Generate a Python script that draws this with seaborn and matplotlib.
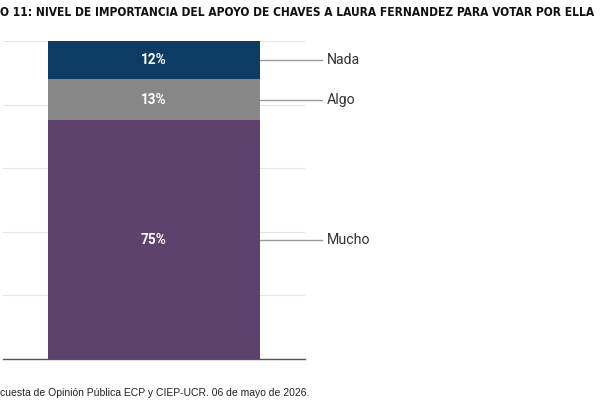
import matplotlib
matplotlib.use("Agg")
import matplotlib.pyplot as plt
from matplotlib import font_manager
import seaborn as sns
import pandas as pd

categories = ["Mucho", "Algo", "Nada"]
values = [75, 13, 12]
colors = ["#5d426e", "#878787", "#0c3c63"]
pct_labels = ["75%", "13%", "12%"]
title = "O 11: NIVEL DE IMPORTANCIA DEL APOYO DE CHAVES A LAURA FERNANDEZ PARA VOTAR POR ELLA"
footer = "cuesta de Opinión Pública ECP y CIEP-UCR. 06 de mayo de 2026."

sns.set_theme(style="white")
plt.rcParams['font.family'] = ['Roboto', 'DejaVu Sans']

# choose a condensed family for the title if available
title_family = ["Lato", "DejaVu Sans"]
title_stretch = "normal"
for fam, stretch in [("Liberation Sans Narrow", "normal"), ("DejaVu Sans", "condensed")]:
    try:
        fp = font_manager.FontProperties(family=fam, weight="bold", stretch=stretch)
        path = font_manager.findfont(fp, fallback_to_default=False)
        if fam == "DejaVu Sans" and "Condensed" not in path:
            continue
        title_family = [fam, "DejaVu Sans"]
        title_stretch = stretch
        break
    except Exception:
        continue

fig = plt.figure(figsize=(6, 4), dpi=100)
ax = fig.add_axes([3/600, 41/400, 302/600, 318/400])

cum = []
s = 0
for v in values:
    s += v
    cum.append(s)

df = pd.DataFrame({"grupo": [""] * len(values), "top": cum, "cat": categories})
for i in reversed(range(len(values))):
    sns.barplot(data=df.iloc[[i]], x="grupo", y="top", color=colors[i],
                width=0.7, ax=ax, saturation=1, edgecolor="none", zorder=2)

ax.set_xlim(-0.5, 0.5)
ax.set_ylim(0, 100)
ax.set_yticks([0, 20, 40, 60, 80, 100])
ax.yaxis.grid(True, color="#e4e4e4", linewidth=0.8, zorder=0)
ax.set_axisbelow(True)
ax.set_xticks([])
ax.set_yticklabels([])
ax.tick_params(left=False, bottom=False)
ax.set_xlabel("")
ax.set_ylabel("")
for sp in ["top", "right", "left"]:
    ax.spines[sp].set_visible(False)
ax.spines["bottom"].set_color("#555555")
ax.spines["bottom"].set_linewidth(1.0)

bottoms = [0] + cum[:-1]
for i, (cat, v) in enumerate(zip(categories, values)):
    mid = bottoms[i] + v / 2
    ax.text(0, mid, pct_labels[i], ha="center", va="center", color="white",
            fontsize=9.8, fontweight="bold", family=["Roboto", "DejaVu Sans"], zorder=5)
    ax.plot([0.35, 0.556], [mid, mid], color="#9a9a9a", linewidth=1.0,
            clip_on=False, zorder=4)
    ax.text(0.573, mid, cat, ha="left", va="center", color="#333333",
            fontsize=10.2, family=["Roboto", "DejaVu Sans"], clip_on=False)

t = fig.text(0.0, 400 - 13, title, transform=None, ha="left", va="center",
             fontsize=9.5, fontweight="bold", color="#111111",
             family=title_family, fontstretch=title_stretch)
fig.canvas.draw()
w = t.get_window_extent().width
t.set_fontsize(9.5 * 597 / w)

fig.text(0.0, 400 - 393, footer, transform=None, ha="left", va="center",
         fontsize=7.5, color="#222222", family=["Liberation Sans", "DejaVu Sans"])

fig.savefig("out.png", dpi=100)
